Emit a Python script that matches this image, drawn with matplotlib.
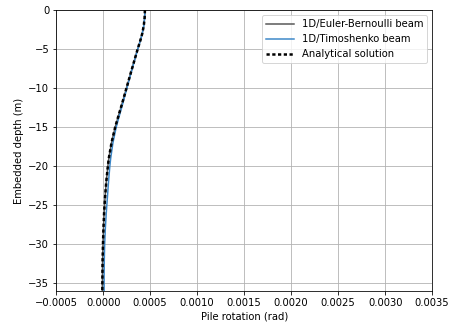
import numpy as np
from matplotlib import pyplot as plt

# depth (m) and pile rotation (rad)
depth = [0, -1, -2, -3, -4, -5, -6.5, -8, -10, -12, -13.5, -15, -17, -19, -20,
         -22, -24, -26, -28, -30, -32, -34, -36]
rot_eb = [0.000444, 0.000441, 0.000432, 0.000416, 0.000393, 0.000367, 0.000331, 0.000295,
          0.000248, 0.000201, 0.000164, 0.000128, 0.000089, 0.000060, 0.000050,
          0.000033, 0.000020, 0.000010, 0.000003, -0.000002, -0.000006, -0.000008, -0.000009]
rot_timo = [0.000444, 0.000441, 0.000432, 0.000416, 0.000394, 0.000368, 0.000333, 0.000298,
            0.000253, 0.000208, 0.000173, 0.000139, 0.000104, 0.000080, 0.000071,
            0.000057, 0.000045, 0.000033, 0.000023, 0.000016, 0.000012, 0.000010, 0.000010]
rot_analytical = [0.000444, 0.000441, 0.000432, 0.000416, 0.000393, 0.000367, 0.000331, 0.000295,
                  0.000248, 0.000201, 0.000164, 0.000128, 0.000089, 0.000060, 0.000050,
                  0.000033, 0.000020, 0.000010, 0.000003, -0.000002, -0.000006, -0.000008, -0.000009]

fig = plt.figure(figsize=(453 / 72, 325 / 72), dpi=72)
ax = fig.add_axes([0.124, 0.105, 0.83, 0.864])

ax.plot(rot_eb, depth, color="#555555", lw=1.5, label="1D/Euler-Bernoulli beam")
ax.plot(rot_timo, depth, color="#3a86c8", lw=1.5, label="1D/Timoshenko beam")
ax.plot(rot_analytical, depth, "k--", lw=2.5, dashes=(1.3, 1.0), label="Analytical solution")

ax.set_xlim(-0.0005, 0.0035)
ax.set_ylim(-36, 0)
ax.set_xlabel("Pile rotation (rad)")
ax.set_ylabel("Embedded depth (m)")
ax.grid(True)
ax.legend(loc="upper right", handlelength=2.8)

fig.savefig("out.png", dpi=72)
